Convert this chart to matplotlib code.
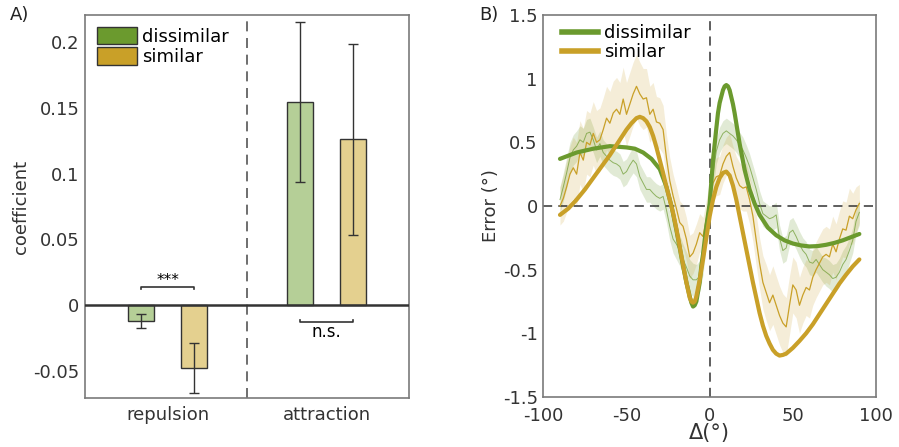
import numpy as np
import matplotlib.pyplot as plt
from matplotlib.patches import Patch
from matplotlib.lines import Line2D

plt.rcParams['font.family'] = ['DejaVu Sans']
plt.rcParams['axes.unicode_minus'] = False

# ---- panel A data ----
groups = ['repulsion', 'attraction']
coef_dissimilar = [-0.012, 0.1543]
err_dissimilar = [0.005, 0.0606]
coef_similar = [-0.0474, 0.1261]
err_similar = [0.019, 0.0727]

# ---- panel B data ----
delta = np.arange(-90, 91, 2)
dis_data = [0.05, 0.15, 0.26, 0.38, 0.44, 0.47, 0.52, 0.50, 0.57, 0.58,
            0.52, 0.44, 0.49, 0.42, 0.39, 0.36, 0.34, 0.33, 0.31, 0.25,
            0.27, 0.32, 0.36, 0.33, 0.23, 0.18, 0.13, 0.13, 0.10, 0.075,
            0.06, 0.075, -0.03, -0.16, -0.26, -0.30, -0.35, -0.42, -0.48, -0.55,
            -0.58, -0.58, -0.55, -0.42, -0.20, 0.08, 0.25, 0.43, 0.52, 0.57,
            0.59, 0.57, 0.55, 0.52, 0.48, 0.44, 0.38, 0.31, 0.22, 0.13,
            0.02, -0.06, -0.08, -0.10, -0.09, -0.07, -0.25, -0.35, -0.33, -0.21,
            -0.19, -0.24, -0.30, -0.35, -0.38, -0.44, -0.45, -0.42, -0.46, -0.50,
            -0.52, -0.54, -0.57, -0.56, -0.52, -0.46, -0.42, -0.35, -0.27, -0.12,
            -0.05]
dis_sem = [0.10, 0.11, 0.12, 0.12, 0.12, 0.12, 0.11, 0.11, 0.11, 0.11,
           0.10, 0.10, 0.10, 0.10, 0.10, 0.10, 0.10, 0.10, 0.10, 0.10,
           0.10, 0.10, 0.10, 0.10, 0.10, 0.10, 0.10, 0.10, 0.10, 0.10,
           0.10, 0.10, 0.10, 0.11, 0.11, 0.12, 0.12, 0.12, 0.12, 0.13,
           0.13, 0.12, 0.12, 0.12, 0.11, 0.11, 0.11, 0.10, 0.10, 0.10,
           0.10, 0.10, 0.10, 0.10, 0.10, 0.10, 0.10, 0.10, 0.10, 0.10,
           0.10, 0.10, 0.10, 0.10, 0.10, 0.10, 0.10, 0.10, 0.10, 0.10,
           0.10, 0.10, 0.10, 0.10, 0.10, 0.10, 0.10, 0.10, 0.10, 0.10,
           0.11, 0.11, 0.11, 0.11, 0.11, 0.11, 0.11, 0.10, 0.10, 0.10,
           0.10]
sim_data = [0.00, 0.06, 0.15, 0.25, 0.30, 0.25, 0.42, 0.36, 0.50, 0.48,
            0.57, 0.50, 0.52, 0.60, 0.69, 0.65, 0.73, 0.76, 0.72, 0.84,
            0.72, 0.80, 0.88, 0.94, 0.88, 0.84, 0.85, 0.72, 0.76, 0.66,
            0.65, 0.60, 0.38, 0.20, 0.08, -0.02, -0.13, -0.16, -0.26, -0.40,
            -0.37, -0.30, -0.21, -0.24, -0.10, 0.05, 0.18, 0.23, 0.24, 0.33,
            0.39, 0.42, 0.31, 0.22, 0.16, 0.14, 0.15, 0.05, -0.08, -0.27,
            -0.45, -0.60, -0.68, -0.76, -0.70, -0.78, -0.86, -0.92, -0.95, -0.78,
            -0.62, -0.66, -0.78, -0.70, -0.64, -0.66, -0.56, -0.50, -0.45, -0.40,
            -0.38, -0.40, -0.30, -0.36, -0.26, -0.18, -0.19, -0.08, -0.10, -0.03,
            0.02]
sim_sem = [0.15, 0.18, 0.20, 0.22, 0.24, 0.25, 0.25, 0.25, 0.25, 0.25,
           0.25, 0.25, 0.25, 0.25, 0.25, 0.25, 0.25, 0.25, 0.25, 0.25,
           0.25, 0.25, 0.25, 0.25, 0.25, 0.24, 0.23, 0.22, 0.21, 0.20,
           0.20, 0.19, 0.18, 0.18, 0.17, 0.17, 0.17, 0.17, 0.17, 0.17,
           0.16, 0.16, 0.15, 0.15, 0.15, 0.15, 0.15, 0.15, 0.15, 0.15,
           0.15, 0.15, 0.16, 0.17, 0.18, 0.18, 0.19, 0.19, 0.20, 0.20,
           0.20, 0.21, 0.22, 0.22, 0.23, 0.23, 0.23, 0.23, 0.23, 0.23,
           0.22, 0.22, 0.22, 0.22, 0.22, 0.22, 0.22, 0.22, 0.22, 0.22,
           0.22, 0.22, 0.22, 0.22, 0.22, 0.22, 0.22, 0.22, 0.20, 0.18,
           0.15]

# model fits
dis_fit_x = [-90, -80, -70, -60, -50, -45, -40, -35, -30, -26, -23, -20, -16, -14, -12,
             -11, -10, -9, -8, -6, -5, -4, -2, 0, 2, 4, 5, 6, 8, 9, 10, 11, 12, 14, 15,
             18, 21, 24, 27, 30, 35, 40, 45, 50, 55, 60, 65, 70, 75, 80, 85, 90]
dis_fit_y = [0.37, 0.42, 0.45, 0.47, 0.46, 0.45, 0.42, 0.37, 0.29, 0.15, 0.0, -0.19, -0.47,
             -0.60, -0.71, -0.76, -0.79, -0.78, -0.75, -0.60, -0.47, -0.38, -0.16, 0.02,
             0.36, 0.61, 0.73, 0.81, 0.91, 0.94, 0.95, 0.94, 0.91, 0.80, 0.73,
             0.49, 0.285, 0.13, 0.02, -0.07, -0.17, -0.23, -0.27, -0.295, -0.31, -0.318,
             -0.315, -0.305, -0.29, -0.27, -0.245, -0.22]
sim_fit_x = [-90, -85, -80, -75, -70, -65, -60, -55, -50, -47, -44, -42, -40, -38, -36,
             -34, -32, -30, -28, -26, -24, -22, -20, -18, -16, -14, -12, -11, -10, -9,
             -8, -6, -4, -2, 0, 2, 4, 6, 8, 10, 12, 14, 16, 18, 20, 22, 24, 26, 28, 30,
             32, 34, 36, 38, 40, 42, 44, 46, 50, 54, 58, 62, 66, 70, 74, 78, 82, 86, 90]
sim_fit_y = [-0.07, -0.02, 0.05, 0.13, 0.22, 0.31, 0.40, 0.50, 0.60, 0.65, 0.69, 0.70,
             0.69, 0.665, 0.62, 0.55, 0.46, 0.36, 0.26, 0.15, 0.05, -0.055, -0.18, -0.32,
             -0.46, -0.60, -0.72, -0.75, -0.76, -0.75, -0.71, -0.58, -0.42, -0.25, -0.08,
             0.05, 0.15, 0.22, 0.26, 0.27, 0.24, 0.16, 0.05, -0.08, -0.21, -0.34, -0.47,
             -0.60, -0.72, -0.84, -0.94, -1.02, -1.08, -1.13, -1.16, -1.175, -1.17, -1.16,
             -1.115, -1.06, -1.0, -0.93, -0.85, -0.77, -0.69, -0.61, -0.54, -0.475, -0.42]

green = '#6b9a2e'
gold = '#c9a028'
green_light = '#b5cf97'
gold_light = '#e4d08f'
spine_col = '#7a7a7a'
fs = 13

fig = plt.figure(figsize=(8.99, 4.47), dpi=100)

# ================= A =================
ax = fig.add_axes([0.0946, 0.1096, 0.3604, 0.8568])
pos = np.arange(1, len(groups) + 1)
off = 0.1667
w = 0.165
ax.bar(pos - off, coef_dissimilar, width=w, color=green_light, edgecolor='#333333', lw=1, zorder=2)
ax.bar(pos + off, coef_similar, width=w, color=gold_light, edgecolor='#333333', lw=1, zorder=2)
ax.errorbar(pos - off, coef_dissimilar, yerr=err_dissimilar, fmt='none', ecolor='#333333',
            elinewidth=1, capsize=3.5, capthick=1, zorder=3)
ax.errorbar(pos + off, coef_similar, yerr=err_similar, fmt='none', ecolor='#333333',
            elinewidth=1, capsize=3.5, capthick=1, zorder=3)
ax.axhline(0, color='#333333', lw=1.8, zorder=4)
ax.axvline(1.5, color='#555555', lw=1.2, ls=(0, (6, 4)), zorder=1)

# significance brackets
x1, x2 = pos[0] - off, pos[0] + off
ax.plot([x1, x1, x2, x2], [0.0122, 0.0137, 0.0137, 0.0122], color='#333333', lw=1.2)
ax.text((x1 + x2) / 2, 0.0133, '***', ha='center', va='bottom', fontsize=11)
x1, x2 = pos[1] - off, pos[1] + off
ax.plot([x1, x1, x2, x2], [-0.0115, -0.013, -0.013, -0.0115], color='#333333', lw=1.2)
ax.text((x1 + x2) / 2, -0.0135, 'n.s.', ha='center', va='top', fontsize=fs - 1)

ax.set_xlim(0.48, 2.52)
ax.set_ylim(-0.0705, 0.2205)
ax.set_xticks(pos)
ax.set_xticklabels(groups, fontsize=fs)
ax.set_yticks([-0.05, 0, 0.05, 0.1, 0.15, 0.2])
ax.set_yticklabels(['-0.05', '0', '0.05', '0.1', '0.15', '0.2'], fontsize=fs)
ax.tick_params(length=0, pad=4, colors='#333333')
ax.tick_params(axis='x', pad=6)
ax.set_ylabel('coefficient', fontsize=fs, color='#333333', labelpad=2)
for s in ax.spines.values():
    s.set_color(spine_col)
    s.set_linewidth(1.2)
handles = [Patch(facecolor=green, edgecolor='#333333', label='dissimilar'),
           Patch(facecolor=gold, edgecolor='#333333', label='similar')]
ax.legend(handles=handles, loc='upper left', frameon=False, fontsize=fs,
          handlelength=2.2, handleheight=1.1, handletextpad=0.3, labelspacing=0.1,
          borderaxespad=0.45, borderpad=0.2)
fig.text(0.011, 0.955, 'A)', fontsize=fs, color='#222222')

# ================= B =================
bx = fig.add_axes([0.6044, 0.112, 0.37, 0.8544])
dis_data = np.array(dis_data)
sim_data = np.array(sim_data)
dis_sem = np.array(dis_sem)
sim_sem = np.array(sim_sem)
bx.fill_between(delta, dis_data - dis_sem, dis_data + dis_sem, color=green, alpha=0.2, lw=0)
bx.fill_between(delta, sim_data - sim_sem, sim_data + sim_sem, color=gold, alpha=0.18, lw=0)
bx.plot(delta, dis_data, color=green, lw=0.7, alpha=0.7)
bx.plot(delta, sim_data, color=gold, lw=0.9)
bx.axhline(0, color='#333333', lw=1.1, ls=(0, (6, 4)), zorder=1)
bx.axvline(0, color='#333333', lw=1.1, ls=(0, (6, 4)), zorder=1)
bx.plot(dis_fit_x, dis_fit_y, color=green, lw=3, solid_capstyle='round')
bx.plot(sim_fit_x, sim_fit_y, color=gold, lw=3, solid_capstyle='round')

bx.set_xlim(-100, 100)
bx.set_ylim(-1.5, 1.5)
bx.set_xticks([-100, -50, 0, 50, 100])
bx.set_yticks([-1.5, -1, -0.5, 0, 0.5, 1, 1.5])
bx.set_yticklabels(['-1.5', '-1', '-0.5', '0', '0.5', '1', '1.5'])
bx.tick_params(length=0, pad=4, labelsize=fs, colors='#333333')
bx.tick_params(axis='x', pad=7)
bx.set_ylabel('Error (°)', fontsize=fs, color='#333333', labelpad=2)
bx.set_xlabel('Δ(°)', fontsize=fs + 2, color='#333333', labelpad=-1)
for s in bx.spines.values():
    s.set_color(spine_col)
    s.set_linewidth(1.2)
lh = [Line2D([], [], color=green, lw=4, label='dissimilar'),
      Line2D([], [], color=gold, lw=4, label='similar')]
bx.legend(handles=lh, loc='upper left', frameon=False, fontsize=fs,
          handlelength=2.0, handletextpad=0.3, labelspacing=0.05,
          borderaxespad=0.3, borderpad=0.2, bbox_to_anchor=(0.03, 1.0))
fig.text(0.533, 0.955, 'B)', fontsize=fs, color='#222222')

fig.savefig('out.png', dpi=100)
